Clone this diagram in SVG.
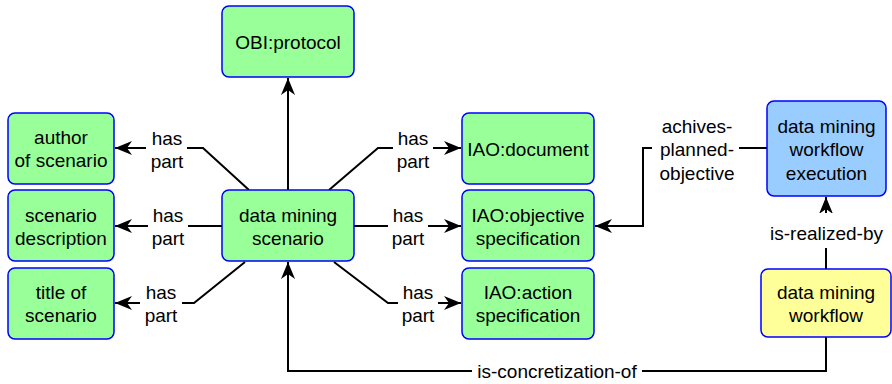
<svg xmlns="http://www.w3.org/2000/svg" width="892" height="384" viewBox="0 0 892 384">
<style>
.box{stroke:#0000ff;stroke-width:1.5}
.g{fill:#99ff99}
.b{fill:#99ccff}
.y{fill:#ffff99}
text{font-family:"Liberation Sans",Arial,sans-serif;font-size:19px;fill:#000;text-anchor:middle}
.c{fill:none;stroke:#000;stroke-width:2}
.bg{fill:#fff}
</style>
<defs>
<marker id="arr" viewBox="-18 -8 20 16" refX="0" refY="0" markerWidth="20" markerHeight="16" markerUnits="userSpaceOnUse" orient="auto">
<path d="M0,0 L-17,-7 L-12,0 L-17,7 Z" fill="#000"/>
</marker>
</defs>
<g id="connectors">
<path class="c" d="M288,190 V78" marker-end="url(#arr)"/>
<path class="c" d="M249,190 L203,148 H115" marker-end="url(#arr)"/>
<path class="c" d="M222,226 H115" marker-end="url(#arr)"/>
<path class="c" d="M245,262 L194,303 H115" marker-end="url(#arr)"/>
<path class="c" d="M329,190 L378,148 H461" marker-end="url(#arr)"/>
<path class="c" d="M354,226 H461" marker-end="url(#arr)"/>
<path class="c" d="M334,262 L388,303 H461" marker-end="url(#arr)"/>
<path class="c" d="M767,148 H643 V226 H595" marker-end="url(#arr)"/>
<path class="c" d="M826,269 V197" marker-end="url(#arr)"/>
<path class="c" d="M826,337 V371 H288 V262" marker-end="url(#arr)"/>
<rect class="bg" x="146" y="128" width="41" height="44"/>
<text x="167" y="145">has</text><text x="167" y="168">part</text>
<rect class="bg" x="148" y="206" width="40" height="44"/>
<text x="168" y="222">has</text><text x="168" y="245">part</text>
<rect class="bg" x="140" y="283" width="42" height="44"/>
<text x="161" y="299">has</text><text x="161" y="322">part</text>
<rect class="bg" x="393" y="128" width="40" height="44"/>
<text x="413" y="145">has</text><text x="413" y="168">part</text>
<rect class="bg" x="388" y="206" width="40" height="44"/>
<text x="408" y="222">has</text><text x="408" y="245">part</text>
<rect class="bg" x="398" y="283" width="40" height="44"/>
<text x="418" y="299">has</text><text x="418" y="322">part</text>
<rect class="bg" x="652" y="112" width="87" height="74"/>
<text x="697" y="132.5">achives-</text><text x="697" y="156">planned-</text><text x="697" y="179.5">objective</text>
<rect class="bg" x="766" y="213" width="121" height="35"/>
<text x="826.5" y="240">is-realized-by</text>
<rect class="bg" x="472" y="360" width="170" height="22"/>
<text x="557" y="378">is-concretization-of</text>
</g>
<g id="obi-protocol"><rect class="box g" x="222" y="6" width="132" height="71" rx="7"/><text x="288" y="48.5">OBI:protocol</text></g>
<g id="author-of-scenario"><rect class="box g" x="8" y="113" width="106" height="71" rx="7"/><text x="61" y="144">author</text><text x="61" y="167">of scenario</text></g>
<g id="scenario-description"><rect class="box g" x="8" y="190" width="106" height="71" rx="7"/><text x="61" y="221.5">scenario</text><text x="61" y="244.5">description</text></g>
<g id="title-of-scenario"><rect class="box g" x="8" y="268" width="106" height="71" rx="7"/><text x="61" y="299">title of</text><text x="61" y="322">scenario</text></g>
<g id="data-mining-scenario"><rect class="box g" x="222" y="190" width="132" height="71" rx="7"/><text x="288" y="221.5">data mining</text><text x="288" y="244.5">scenario</text></g>
<g id="iao-document"><rect class="box g" x="462" y="113" width="132" height="71" rx="7"/><text x="528" y="155.5">IAO:document</text></g>
<g id="iao-objective-specification"><rect class="box g" x="462" y="190" width="132" height="71" rx="7"/><text x="528" y="221.5">IAO:objective</text><text x="528" y="244.5">specification</text></g>
<g id="iao-action-specification"><rect class="box g" x="462" y="268" width="132" height="71" rx="7"/><text x="528" y="299">IAO:action</text><text x="528" y="322">specification</text></g>
<g id="data-mining-workflow-execution"><rect class="box b" x="767" y="101" width="119" height="95" rx="7"/><text x="826.5" y="132.5">data mining</text><text x="826.5" y="156">workflow</text><text x="826.5" y="179.5">execution</text></g>
<g id="data-mining-workflow"><rect class="box y" x="761" y="269" width="130" height="68" rx="7"/><text x="826" y="298.5">data mining</text><text x="826" y="321.5">workflow</text></g>
</svg>
